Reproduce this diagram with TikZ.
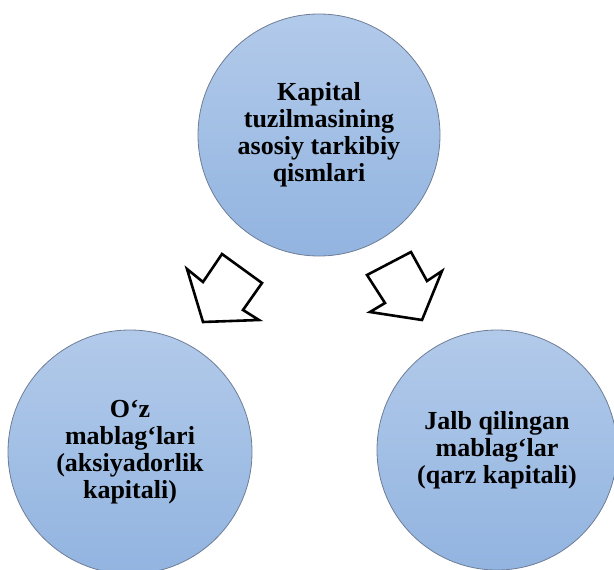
\documentclass[tikz,border=0pt]{standalone}
\usepackage{fontspec}
\setmainfont{Liberation Serif}
\definecolor{balltop}{RGB}{178,202,234}
\definecolor{ballbot}{RGB}{146,180,224}
\definecolor{ballrim}{RGB}{110,125,150}
\tikzset{
  ball/.style={circle, minimum size=#1, inner sep=0pt, align=center,
    draw=ballrim, line width=0.8pt, top color=balltop, bottom color=ballbot,
    font=\bfseries\fontsize{26}{27}\selectfont},
  blockarrow/.style={draw=black, fill=white, line width=2.6pt, line join=miter}
}
\begin{document}
\begin{tikzpicture}[x=1pt,y=-1pt]
      \useasboundingbox (0,0) rectangle (614,570);
      \draw
        (319,135) node[ball=242pt] (top){Kapital\\tuzilmasining\\asosiy tarkibiy\\qismlari}
        (130,452) node[ball=244pt] (own){O‘z\\mablag‘lari\\(aksiyadorlik\\kapitali)}
        (497,450) node[ball=240pt] (debt){Jalb qilingan\\mablag‘lar\\(qarz kapitali)};
      \begin{scope}[blockarrow]
        \draw (187,269) -- (203,282) -- (222,254) -- (262,283) -- (243,310) -- (259,320) -- (203,322) -- cycle;
        \draw (367,275) -- (411,252) -- (427,281) -- (442,271) -- (422,320) -- (370,312) -- (385,303) -- cycle;
      \end{scope}
    \end{tikzpicture}
\end{document}
